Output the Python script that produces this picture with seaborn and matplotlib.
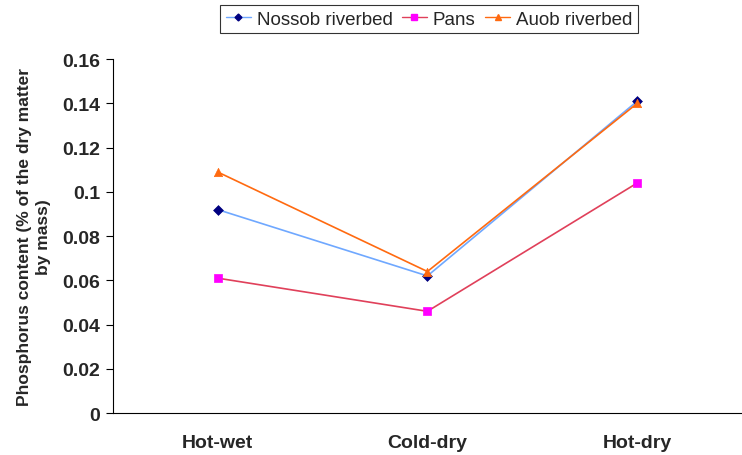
import pandas as pd
import matplotlib.pyplot as plt
import seaborn as sns
from matplotlib.lines import Line2D

# Seasons and phosphorus values
seasons = ['Hot-wet', 'Cold-dry', 'Hot-dry']
sites = ['Nossob riverbed', 'Pans', 'Auob riverbed']
nossob = [0.092, 0.062, 0.141]
pans = [0.061, 0.046, 0.104]
auob = [0.109, 0.064, 0.140]

line_colors = {'Nossob riverbed': '#6FA8FF', 'Pans': '#E0405A', 'Auob riverbed': '#FF6A10'}
marker_colors = {'Nossob riverbed': '#000080', 'Pans': '#FF00FF', 'Auob riverbed': '#FF6A10'}
markers = {'Nossob riverbed': 'D', 'Pans': 's', 'Auob riverbed': '^'}
marker_sizes = {'Nossob riverbed': 5, 'Pans': 6, 'Auob riverbed': 6}

rows = []
for site, vals in zip(sites, [nossob, pans, auob]):
    for i, (s, v) in enumerate(zip(seasons, vals)):
        rows.append({'site': site, 'season': s, 'pos': i, 'P': v})
df = pd.DataFrame(rows)

sns.set_style('white')
plt.rcParams['font.family'] = ['Liberation Sans', 'DejaVu Sans']

fig = plt.figure(figsize=(7.42, 4.56), dpi=100)
ax = fig.add_axes([0.152, 0.092, 0.848, 0.776])

# Lines
sns.lineplot(data=df, x='pos', y='P', hue='site', palette=line_colors,
             linewidth=1.2, legend=False, ax=ax, sort=False)
# Markers drawn separately so they can differ from the line colour
for site in sites:
    sub = df[df['site'] == site]
    sns.scatterplot(data=sub, x='pos', y='P', color=marker_colors[site],
                    marker=markers[site], s=marker_sizes[site] ** 2,
                    edgecolor=marker_colors[site], linewidth=0.5,
                    legend=False, ax=ax, zorder=3)

ax.set_xlim(-0.5, 2.5)
ax.set_ylim(0, 0.16)
ax.set_yticks([0, 0.02, 0.04, 0.06, 0.08, 0.1, 0.12, 0.14, 0.16])
ax.set_yticklabels(['0', '0.02', '0.04', '0.06', '0.08', '0.1', '0.12', '0.14', '0.16'],
                   fontsize=14, fontweight='bold')
ax.set_xticks([0, 1, 2])
ax.set_xticklabels(seasons, fontsize=14, fontweight='bold')
ax.set_xticks([-0.5, 0.5, 1.5, 2.5], minor=True)
ax.tick_params(axis='x', which='major', length=0, pad=15)
ax.tick_params(axis='x', which='minor', length=5, width=0.8, direction='out', color='black')
ax.tick_params(axis='y', length=5, width=0.8, direction='out', color='black', pad=4, left=True)
ax.set_xlabel('')
ax.set_ylabel('Phosphorus content (% of the dry matter\nby mass)', fontsize=12.5,
              fontweight='bold', labelpad=8, linespacing=1.35)

for side in ['top', 'right']:
    ax.spines[side].set_visible(False)
for side in ['left', 'bottom']:
    ax.spines[side].set_color('black')
    ax.spines[side].set_linewidth(0.8)

handles = [Line2D([0], [0], color=line_colors[s], lw=1.0, marker=markers[s],
                  markersize=marker_sizes[s] - 1.5, markerfacecolor=marker_colors[s],
                  markeredgecolor=marker_colors[s]) for s in sites]
leg = fig.legend(handles, sites, loc='center', bbox_to_anchor=(0.578, 0.956), ncol=3,
                 fontsize=13.5, frameon=True, fancybox=False, edgecolor='black',
                 handlelength=1.35, handletextpad=0.3, columnspacing=0.5,
                 borderpad=0.3, borderaxespad=0)
leg.get_frame().set_linewidth(0.8)

fig.savefig('out.png', dpi=100)
